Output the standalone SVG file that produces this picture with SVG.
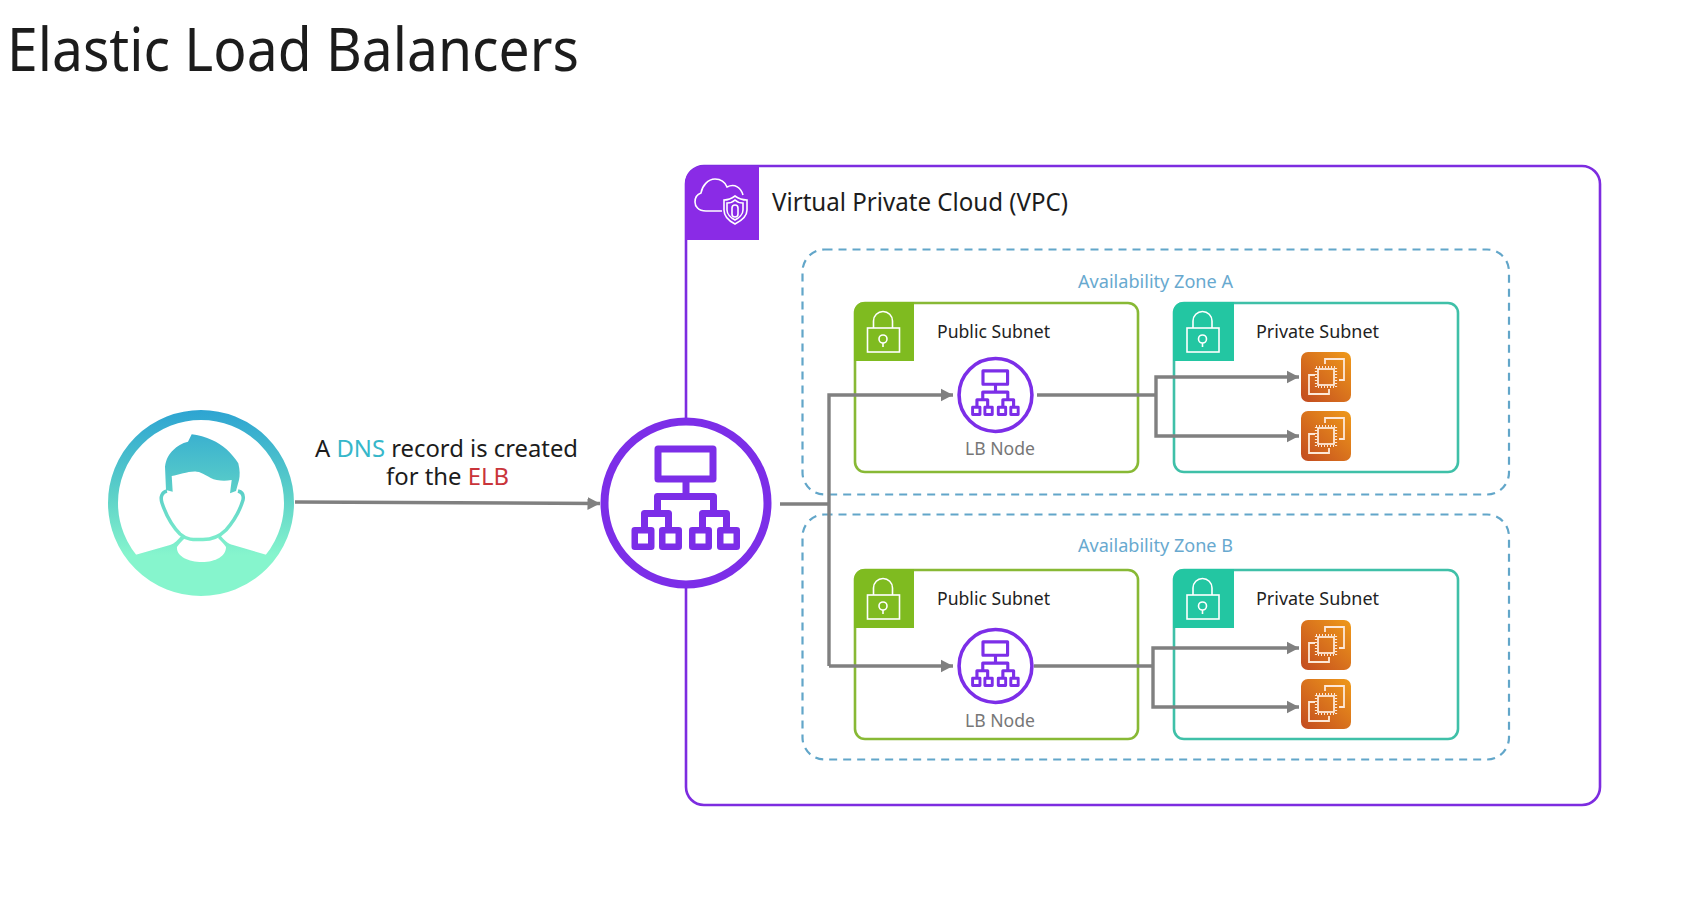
<svg xmlns="http://www.w3.org/2000/svg" xmlns:xlink="http://www.w3.org/1999/xlink" width="1683" height="906" viewBox="0 0 1683 906">
<style>
text{font-family:"Noto Sans","Open Sans","Liberation Sans",sans-serif;fill:#1c1c1c}
.zone{fill:none;stroke:#62a6c9;stroke-width:2.2;stroke-dasharray:8 6}
.ztxt{font-size:18px;fill:#68a9cf}
.sub{font-size:18px;fill:#222}
.lbt{font-size:18px;fill:#777}
.pub{fill:#fff;stroke:#88b935;stroke-width:2.6}
.pubh{fill:#7fbb20}
.pri{fill:#fff;stroke:#3fc0a8;stroke-width:2.6}
.prih{fill:#23c6a2}
.conn{fill:none;stroke:#808080;stroke-width:3.400}
.ico{fill:none;stroke:#fff;stroke-width:1.600}
.lbr{fill:#fff;stroke:#7c2ee8;stroke-width:8}
.lbs{fill:none;stroke:#7c2ee8;stroke-width:7;stroke-linejoin:round}
.lbb{fill:#fff;stroke:#7c2ee8;stroke-width:6.500;stroke-linejoin:round}
</style>
<defs>
<marker id="arr" markerUnits="userSpaceOnUse" markerWidth="14" markerHeight="14" refX="12.500" refY="7" orient="auto"><path d="M0,0.500 L12.500,7 L0,13.500 Z" fill="#808080"/></marker>
<linearGradient id="ug" gradientUnits="userSpaceOnUse" x1="0" y1="410" x2="0" y2="596"><stop offset="0" stop-color="#2da4d2"/><stop offset="0.45" stop-color="#5cd0c8"/><stop offset="0.78" stop-color="#86f5cd"/></linearGradient>
<linearGradient id="eg" x1="0" y1="1" x2="1" y2="0"><stop offset="0" stop-color="#c24a20"/><stop offset="1" stop-color="#ef9a1a"/></linearGradient>
<g id="lock">
<path class="ico" d="M20,26 V19 a9.500,9.500 0 0 1 19,0 V26"/>
<rect class="ico" x="14" y="26" width="32" height="24"/>
<circle class="ico" cx="29.500" cy="37" r="4"/>
<path class="ico" d="M29.500,41 V45"/>
</g>
<g id="lb">
<circle class="lbr" cx="0" cy="0" r="81.500"/>
<rect class="lbs" x="-28" y="-54" width="55" height="30"/>
<path class="lbs" d="M0,-24 V-6.500 M-28.500,10.500 V-6.500 H27.500 V10.500"/>
<path class="lbs" d="M-41.500,27 V10.500 H-17.500 V27 M16.500,27 V10.500 H40.500 V27"/>
<rect class="lbb" x="-51.250" y="27.250" width="16.500" height="16.500"/>
<rect class="lbb" x="-23.750" y="27.250" width="16.500" height="16.500"/>
<rect class="lbb" x="6.250" y="27.250" width="16.500" height="16.500"/>
<rect class="lbb" x="34.250" y="27.250" width="16.500" height="16.500"/>
</g>
<g id="ec2">
<rect x="0" y="0" width="50" height="50" rx="7" fill="url(#eg)"/>
<g fill="none" stroke="#fde8d8">
<path stroke-width="1.800" d="M24,12 V7 H43 V28 H38 M14,23 H8 V42 H28 V37"/>
<rect x="17" y="17" width="16" height="16" stroke-width="1.800"/>
<rect x="15" y="15" width="20" height="20" stroke-width="2.200" stroke-dasharray="1 2"/>
</g>
</g>
</defs>
<rect width="1683" height="906" fill="#fff"/>
<text id="title" x="7" y="71" font-size="60" textLength="572" lengthAdjust="spacingAndGlyphs" fill="#111">Elastic Load Balancers</text>

<g id="vpc">
<rect x="686" y="166" width="914" height="639" rx="18" fill="#fff" stroke="#7d2ce0" stroke-width="2.600"/>
<path d="M685,184 a18,18 0 0 1 18,-18 H759 V240 H685 Z" fill="#8a2be6"/>
<g class="ico">
<path d="M722,211 H706 C698,211 695,206 695,202 C695,197 698,194 701,193 C702,186 708,179 715,179 C721,179 725,182 727,187 C735,183 741,188 743,195"/>
<path d="M735,196 C739,199 743,200 747,200 V210 C747,217 741,221 735,224 C729,221 724,217 724,210 V200 C728,200 731,199 735,196 Z"/>
<path d="M735,200 C737,202 740,203 743,203 V210 C743,214 739,218 735,220 C731,218 727,214 727,210 V203 C730,203 733,202 735,200 Z"/>
<rect x="732" y="205" width="6" height="12" rx="3"/>
</g>
<text x="772" y="211" font-size="25" textLength="296" lengthAdjust="spacingAndGlyphs">Virtual Private Cloud (VPC)</text>
</g>

<g id="zone-a">
<rect class="zone" x="802.500" y="249.500" width="706.500" height="245" rx="22"/>
<text class="ztxt" x="1078" y="288" textLength="155" lengthAdjust="spacingAndGlyphs">Availability Zone A</text>
</g>
<g id="zone-b">
<rect class="zone" x="802.500" y="514.500" width="706.500" height="245" rx="22"/>
<text class="ztxt" x="1078" y="552" textLength="155" lengthAdjust="spacingAndGlyphs">Availability Zone B</text>
</g>

<g id="public-a">
<rect class="pub" x="855" y="303" width="283" height="169" rx="10"/>
<path class="pubh" d="M854,312 a10,10 0 0 1 10,-10 H914 V361 H854 Z"/>
<use href="#lock" x="853.500" y="302"/>
<text class="sub" x="937" y="338" textLength="113" lengthAdjust="spacingAndGlyphs">Public Subnet</text>
</g>
<g id="private-a">
<rect class="pri" x="1174" y="303" width="284" height="169" rx="10"/>
<path class="prih" d="M1173,312 a10,10 0 0 1 10,-10 H1234 V361 H1173 Z"/>
<use href="#lock" x="1173" y="302"/>
<text class="sub" x="1256" y="338" textLength="123" lengthAdjust="spacingAndGlyphs">Private Subnet</text>
</g>
<g id="public-b">
<rect class="pub" x="855" y="570" width="283" height="169" rx="10"/>
<path class="pubh" d="M854,579 a10,10 0 0 1 10,-10 H914 V628 H854 Z"/>
<use href="#lock" x="853.500" y="569"/>
<text class="sub" x="937" y="605" textLength="113" lengthAdjust="spacingAndGlyphs">Public Subnet</text>
</g>
<g id="private-b">
<rect class="pri" x="1174" y="570" width="284" height="169" rx="10"/>
<path class="prih" d="M1173,579 a10,10 0 0 1 10,-10 H1234 V628 H1173 Z"/>
<use href="#lock" x="1173" y="569"/>
<text class="sub" x="1256" y="605" textLength="123" lengthAdjust="spacingAndGlyphs">Private Subnet</text>
</g>

<g id="connectors">
<path class="conn" d="M295,502 L600,503.500" marker-end="url(#arr)"/>
<path class="conn" d="M780,504 H829"/>
<path class="conn" d="M829,666 V395 H953" marker-end="url(#arr)"/>
<path class="conn" d="M829,666 H953" marker-end="url(#arr)"/>
<path class="conn" d="M1037,395 H1156"/>
<path class="conn" d="M1156,395 V377 H1299" marker-end="url(#arr)"/>
<path class="conn" d="M1156,395 V436 H1299" marker-end="url(#arr)"/>
<path class="conn" d="M1034,666 H1153"/>
<path class="conn" d="M1153,666 V648 H1299" marker-end="url(#arr)"/>
<path class="conn" d="M1153,666 V707 H1299" marker-end="url(#arr)"/>
</g>

<g id="lb-node-a">
<use href="#lb" transform="translate(995.500,395) scale(0.447)"/>
<text class="lbt" x="965" y="455" textLength="70" lengthAdjust="spacingAndGlyphs">LB Node</text>
</g>
<g id="lb-node-b">
<use href="#lb" transform="translate(995.500,666) scale(0.447)"/>
<text class="lbt" x="965" y="727" textLength="70" lengthAdjust="spacingAndGlyphs">LB Node</text>
</g>
<g id="elb"><use href="#lb" transform="translate(686,503)"/></g>
<g id="ec2-a1"><use href="#ec2" x="1301" y="352"/></g>
<g id="ec2-a2"><use href="#ec2" x="1301" y="411"/></g>
<g id="ec2-b1"><use href="#ec2" x="1301" y="620"/></g>
<g id="ec2-b2"><use href="#ec2" x="1301" y="679"/></g>

<g id="user">
<circle cx="201" cy="503" r="88" fill="#fff" stroke="url(#ug)" stroke-width="10"/>
<g fill="url(#ug)">
<path d="M191.700,434.300 C198,435 206,437 212,440 C222,444 232,453 238.300,463.300 C240,470 240,476 239,480 L236,491 L230,493.300 L231.700,480 C226,481 222,481 216.700,480 C208,478 203,472 196.700,471.700 C188,471 180,475 171.700,476 L172.700,491.700 L166,490 L165,466.700 C166,459 169,454 173.300,450 C177,446 182,443 188,441.700 Z"/>
<path d="M135,555 L170,545 C174,544 178,540 182,535 L185,538 C182,541 179,544 177,547 C176,556 188,562 202,562 C216,562 226,556 226,547 C224,544 221,541 218,538 L220,535 C224,540 228,544 233,545 L267,555 L270,557 A88,88 0 0 1 132,557 Z"/>
</g>
<path d="M167,491 C162,492 160,497 162,503 C166,515 172,526 180,534 C188,541 196,539.500 203,539.500 C212,539.500 219,537 226,530 C234,521 240,510 243,500 C244,495 242,492 238,491" fill="none" stroke="url(#ug)" stroke-width="3.500"/>
</g>

<g id="dns-label">
<text x="315" y="457" font-size="24" textLength="263" lengthAdjust="spacingAndGlyphs">A <tspan fill="#36b7ca">DNS</tspan> record is created</text>
<text x="386" y="485" font-size="24" textLength="123" lengthAdjust="spacingAndGlyphs">for the <tspan fill="#c9343a">ELB</tspan></text>
</g>
</svg>
